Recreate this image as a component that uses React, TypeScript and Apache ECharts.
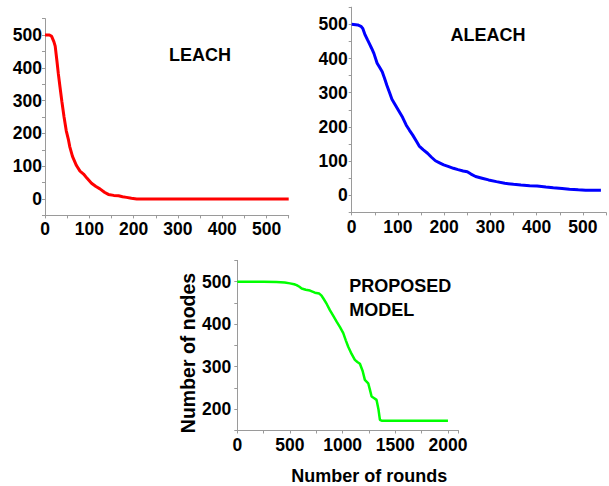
import React, { useEffect, useRef } from "react";
import * as echarts from "echarts";

const leachRounds = [0, 10, 15, 20, 23, 27, 30, 34, 38, 43, 48, 53, 56, 62, 71, 79, 87, 95, 105, 115, 124, 135, 143, 155, 166, 175, 184, 195, 207, 550];
const leachAlive = [500, 500, 496, 480, 466, 420, 383, 340, 298, 250, 208, 180, 159, 130, 102, 85, 76, 63, 48, 38, 31, 20, 14, 11, 10, 7, 5, 2, 0, 0];

const aleachRounds = [0, 13, 20, 24, 29, 34, 38, 43, 48, 55, 60, 66, 71, 76, 82, 87, 94, 101, 110, 118, 125, 132, 140, 146, 155, 164, 172, 181, 190, 199, 210, 220, 230, 241, 250, 258, 268, 282, 296, 313, 331, 350, 366, 385, 401, 420, 436, 455, 471, 490, 506, 539];
const aleachAlive = [500, 498, 494, 488, 469, 455, 444, 430, 415, 386, 375, 361, 342, 322, 300, 281, 265, 249, 228, 205, 190, 176, 158, 144, 133, 123, 112, 101, 95, 89, 84, 79, 75, 71, 69, 62, 55, 50, 45, 40, 35, 32, 30, 28, 27, 24, 22, 20, 18, 16, 15, 15];

const proposedRounds = [0, 250, 373, 450, 500, 540, 563, 590, 611, 650, 690, 737, 778, 800, 816, 850, 879, 910, 943, 975, 1006, 1030, 1053, 1085, 1116, 1140, 1164, 1190, 1211, 1243, 1260, 1275, 1300, 1322, 1340, 1354, 1370, 2000];
const proposedAlive = [500, 500, 499, 498, 496, 494, 492, 488, 484, 481, 479, 474, 472, 467, 461, 447, 433, 420, 406, 393, 379, 362, 347, 330, 316, 311, 307, 290, 269, 261, 245, 230, 226, 222, 200, 175, 173, 173];

const titles = ["LEACH", "ALEACH", "PROPOSED", "MODEL"];
const xAxisTitle = "Number of rounds";
const yAxisTitle = "Number of nodes";

const FONT = "Arial, 'Liberation Sans', sans-serif";
const AXIS_COLOR = "#9a9a9a";

function pairs(xs: number[], ys: number[]) {
  return xs.map((x, i) => [x, ys[i]]);
}

function makeAxis(gridIndex: number, min: number, max: number, interval: number, labelStep: number, isY: boolean, margin: number) {
  return {
    type: "value",
    gridIndex,
    min,
    max,
    interval,
    splitLine: { show: false },
    axisLine: { show: true, onZero: false, lineStyle: { color: AXIS_COLOR, width: 1 } },
    axisTick: { show: true, inside: false, length: 3, lineStyle: { color: AXIS_COLOR } },
    axisLabel: {
      show: true,
      color: "#000",
      fontFamily: FONT,
      fontWeight: "bold",
      fontSize: 17.5,
      margin,
      showMaxLabel: true,
      showMinLabel: true,
      formatter: (v: number) => (Math.round(v) % labelStep === 0 && v >= 0 && v <= (isY ? 500 : max) ? String(Math.round(v)) : ""),
    },
  };
}

export default function App() {
  const ref = useRef<HTMLDivElement>(null);
  useEffect(() => {
    if (!ref.current) return;
    const chart = echarts.init(ref.current, null, { renderer: "svg" });
    const titleStyle = { fill: "#000", font: `bold 18px ${FONT}`, textAlign: "center", textVerticalAlign: "middle" };
    chart.setOption({
      animation: false,
      backgroundColor: "#fff",
      grid: [
        { left: 45, top: 18.6, width: 243.7, height: 196.8 },
        { left: 351.7, top: 7.2, width: 262.4, height: 205.2 },
        { left: 237.3, top: 260.4, width: 221.2, height: 170.1 },
      ],
      xAxis: [
        makeAxis(0, 0, 550, 50, 100, false, 5),
        makeAxis(1, 0, 550, 50, 100, false, 6),
        makeAxis(2, 0, 2100, 250, 500, false, 5),
      ],
      yAxis: [
        makeAxis(0, -50, 550, 50, 100, true, 3),
        makeAxis(1, -50, 550, 50, 100, true, 4),
        makeAxis(2, 150, 550, 50, 100, true, 6),
      ],
      series: [
        {
          type: "line", xAxisIndex: 0, yAxisIndex: 0, showSymbol: false,
          data: pairs(leachRounds, leachAlive),
          lineStyle: { color: "#ff0000", width: 3 },
        },
        {
          type: "line", xAxisIndex: 1, yAxisIndex: 1, showSymbol: false,
          data: pairs(aleachRounds, aleachAlive),
          lineStyle: { color: "#0000ff", width: 3 },
        },
        {
          type: "line", xAxisIndex: 2, yAxisIndex: 2, showSymbol: false,
          data: pairs(proposedRounds, proposedAlive),
          lineStyle: { color: "#00ff00", width: 2.5 },
        },
      ],
      graphic: [
        { type: "text", x: 200, y: 54.5, style: { ...titleStyle, text: titles[0] } },
        { type: "text", x: 488, y: 34.5, style: { ...titleStyle, text: titles[1] } },
        { type: "text", x: 349.3, y: 285.8, style: { ...titleStyle, textAlign: "left", text: titles[2] } },
        { type: "text", x: 349.3, y: 309.8, style: { ...titleStyle, textAlign: "left", text: titles[3] } },
        { type: "text", x: 369.2, y: 476, style: { ...titleStyle, text: xAxisTitle } },
        { type: "text", x: 188, y: 353, rotation: Math.PI / 2, style: { ...titleStyle, font: `bold 19.5px ${FONT}`, text: yAxisTitle } },
      ],
    });
    return () => chart.dispose();
  }, []);
  return <div ref={ref} style={{ position: "fixed", left: 0, top: 0, width: 609, height: 486 }} />;
}
